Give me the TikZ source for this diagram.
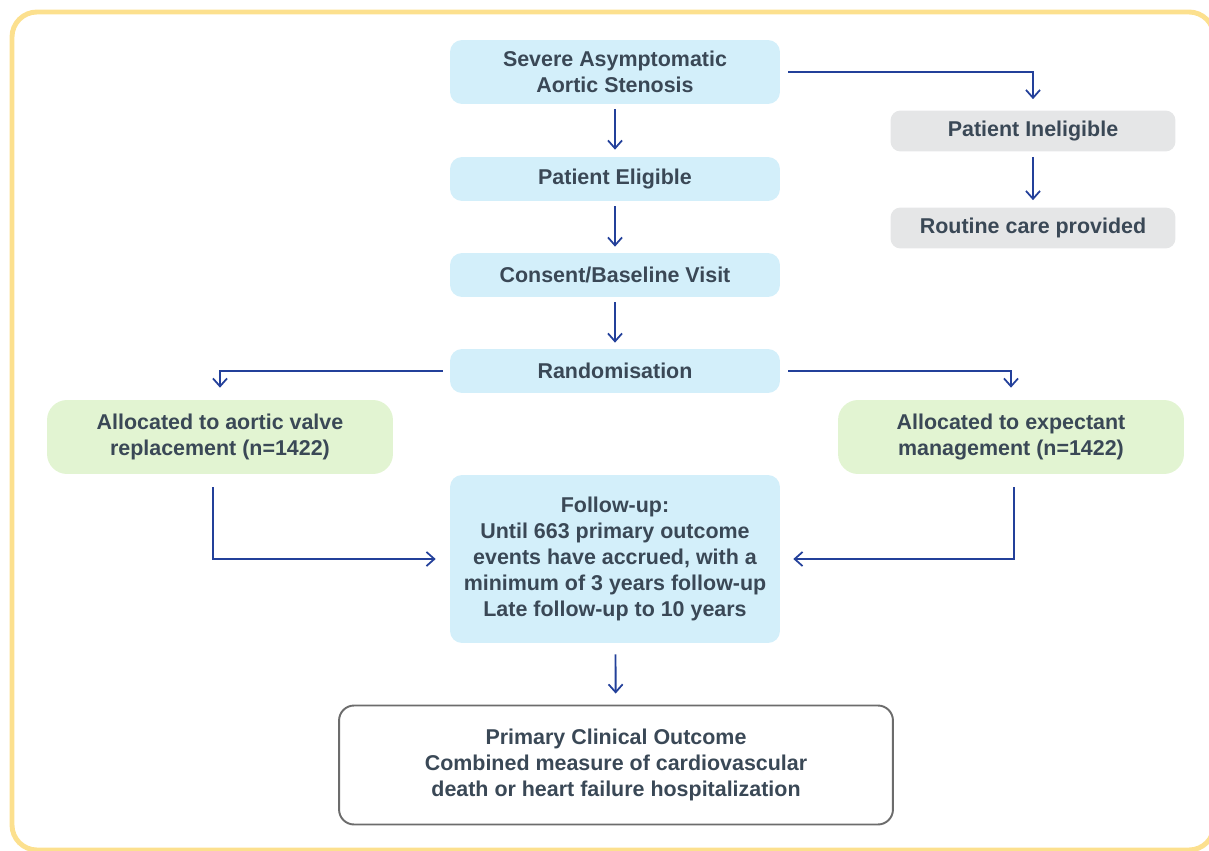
\documentclass[tikz,border=0pt]{standalone}
\usepackage{fontspec}
\setmainfont{Liberation Sans}
\usetikzlibrary{arrows.meta}
\definecolor{txt}{HTML}{3A4856}
\definecolor{arr}{HTML}{23409A}
\definecolor{bluefill}{HTML}{D3EFFA}
\definecolor{greenfill}{HTML}{E2F4D2}
\definecolor{grayfill}{HTML}{E5E6E7}
\definecolor{framecol}{HTML}{FCE08E}
\tikzset{>={Straight Barb[length=4.5pt,width=8pt,line width=1pt]},every node/.style={font=\fontsize{12.2}{14.8}\selectfont\bfseries,text=txt,align=center},
stage/.style={fill=bluefill,rounded corners=0.24cm,minimum width=6.6cm,minimum height=0.88cm},
side/.style={fill=grayfill,rounded corners=0.2cm,minimum width=5.7cm,minimum height=0.82cm},
arm/.style={fill=greenfill,rounded corners=0.4cm,minimum width=6.92cm,minimum height=1.48cm},
flow/.style={draw=arr,line width=1.1pt,->}}
\begin{document}
\begin{tikzpicture}[x=0.02cm,y=-0.02cm]
\useasboundingbox (0,0) rectangle (1209,851);
\draw[framecol,line width=2.8pt,rounded corners=0.5cm] (12,12) rectangle (1214,850);
% main column
\node[stage,minimum height=1.28cm] (sev) at (615,72) {Severe Asymptomatic\\Aortic Stenosis};
\node[stage] (elig) at (615,179) {Patient Eligible};
\node[stage] (cons) at (615,275) {Consent/Baseline Visit};
\node[stage] (rand) at (615,371) {Randomisation};
\node[stage,minimum height=3.36cm] (fup) at (615,559) {Follow-up:\\Until 663 primary outcome\\events have accrued, with a\\minimum of 3 years follow-up\\Late follow-up to 10 years};
\node[draw=gray!85!black,line width=1.1pt,rounded corners=0.3cm,minimum width=11.08cm,minimum height=2.38cm] (prim) at (616,765) {Primary Clinical Outcome\\Combined measure of cardiovascular\\death or heart failure hospitalization};
% ineligible branch
\node[side] (inel) at (1033,131) {Patient Ineligible};
\node[side] (rout) at (1033,228) {Routine care provided};
% arms
\node[arm] (avr) at (220,437) {Allocated to aortic valve\\replacement (n=1422)};
\node[arm] (expm) at (1011,437) {Allocated to expectant\\management (n=1422)};
% arrows
\draw[flow,shorten <=0.16cm,shorten >=0.22cm] (sev.east) -| (inel.north);
\draw[flow,shorten <=0.1cm,shorten >=0.14cm] (sev) -- (elig);
\draw[flow,shorten <=0.1cm,shorten >=0.12cm] (elig) -- (cons);
\draw[flow,shorten <=0.1cm,shorten >=0.12cm] (cons) -- (rand);
\draw[flow,shorten <=0.1cm,shorten >=0.14cm] (inel) -- (rout);
\draw[flow,shorten <=0.14cm,shorten >=0.24cm] (rand.west) -| (avr.north);
\draw[flow,shorten <=0.16cm,shorten >=0.24cm] (rand.east) -| (expm.north);
\draw[flow,shorten <=0.26cm,shorten >=0.28cm] ([xshift=-0.14cm]avr.south) |- (fup.west);
\draw[flow,shorten <=0.26cm,shorten >=0.26cm] ([xshift=0.06cm]expm.south) |- (fup.east);
\draw[flow,shorten <=0.22cm,shorten >=0.22cm] (fup) -- (prim);
\end{tikzpicture}
\end{document}
